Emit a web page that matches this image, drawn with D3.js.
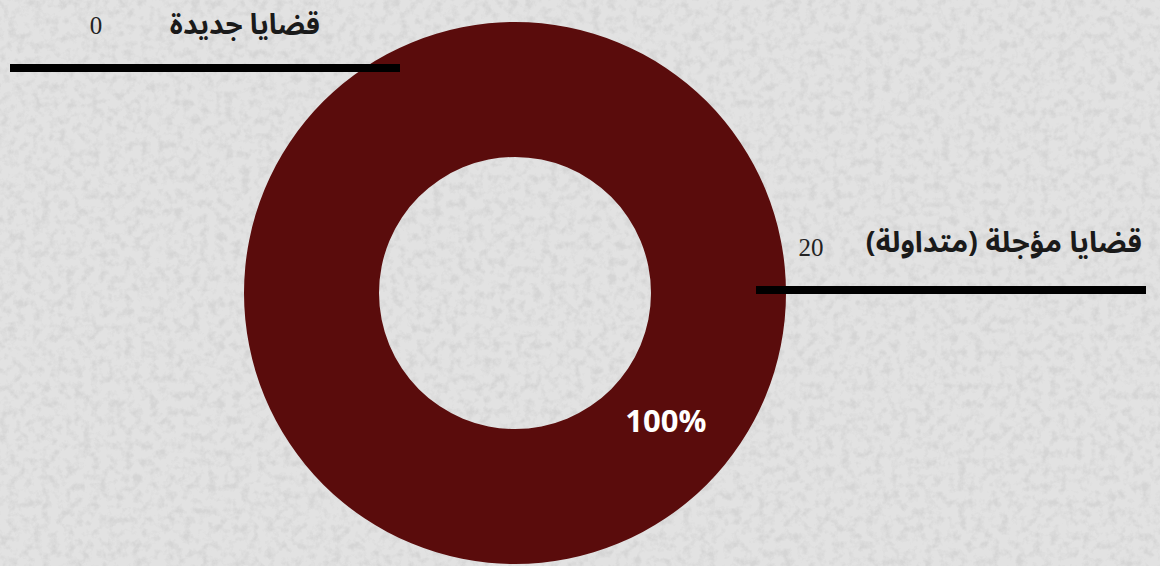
<!DOCTYPE html>
<html><head><meta charset="utf-8">
<script src="https://cdn.jsdelivr.net/npm/d3@7"></script>
<style>html,body{margin:0;padding:0;background:#e0e0e0;overflow:hidden}</style>
</head><body>
<svg id="c" width="1160" height="566"></svg>
<script>
const categories = ["قضايا مؤجلة (متداولة)", "قضايا جديدة"];
const values = [20, 0];
const percentLabels = ["100%", ""];
const colors = ["#5a0c0c", "#9b2a2a"];

const W = 1160, H = 566;
const svg = d3.select("#c");
const defs = svg.append("defs");
const f = defs.append("filter").attr("id","tex").attr("x",0).attr("y",0).attr("width","100%").attr("height","100%");
f.append("feTurbulence").attr("type","fractalNoise").attr("baseFrequency","0.12").attr("numOctaves",4).attr("seed",7).attr("result","n");
f.append("feColorMatrix").attr("in","n").attr("type","matrix")
 .attr("values","0 0 0 0 0.62  0 0 0 0 0.62  0 0 0 0 0.62  0 0 0 -3.2 1.75").attr("result","m");
f.append("feComposite").attr("in","m").attr("in2","SourceGraphic").attr("operator","over");
svg.append("rect").attr("width",W).attr("height",H).attr("fill","#e2e2e2");
svg.append("rect").attr("width",W).attr("height",H).attr("fill","#e2e2e2").attr("filter","url(#tex)").attr("opacity",0.6);

const cx = 515, cy = 293, R = 271, r = 136;
const g = svg.append("g").attr("transform",`translate(${cx},${cy})`);
const pie = d3.pie().sort(null).value(d=>d)(values);
const arc = d3.arc().innerRadius(r).outerRadius(R);
g.selectAll("path.s").data(pie).join("path").attr("class","s")
 .attr("d",arc).attr("fill",(d,i)=>colors[i]);

// percentage label
const labR = 197;
const labA = 130 * Math.PI/180;
g.selectAll("text.p").data(pie.filter(d=>d.value>0)).join("text").attr("class","p")
 .attr("x", Math.sin(labA)*labR).attr("y", -Math.cos(labA)*labR + 12)
 .attr("text-anchor","middle").attr("fill","#fff")
 .attr("font-family","'Open Sans', 'DejaVu Sans', sans-serif").attr("font-weight","700").attr("font-size",31)
 .text((d)=>percentLabels[d.index]);

// callouts
const callouts = [
  {lineX1:756, lineX2:1146, lineY:290, textX:1142, textY:252, numX:811, numY:256, size:29},
  {lineX1:10, lineX2:400, lineY:68, textX:320, textY:34, numX:96, numY:34, size:28}
];
categories.forEach((c,i)=>{
  const p = callouts[i];
  svg.append("line").attr("x1",p.lineX1).attr("x2",p.lineX2).attr("y1",p.lineY).attr("y2",p.lineY)
   .attr("stroke","#000").attr("stroke-width",8);
  svg.append("text").attr("x",p.textX).attr("y",p.textY).attr("text-anchor","start")
   .attr("direction","rtl")
   .attr("font-family","'Noto Sans Arabic','DejaVu Sans',sans-serif").attr("font-weight","700")
   .attr("font-size",p.size).attr("fill","#1a1a1a").text(c);
  svg.append("text").attr("x",p.numX).attr("y",p.numY).attr("text-anchor","middle")
   .attr("font-family","'Liberation Serif',serif").attr("font-size",25).attr("fill","#222").text(values[i]);
});
</script>
</body></html>
